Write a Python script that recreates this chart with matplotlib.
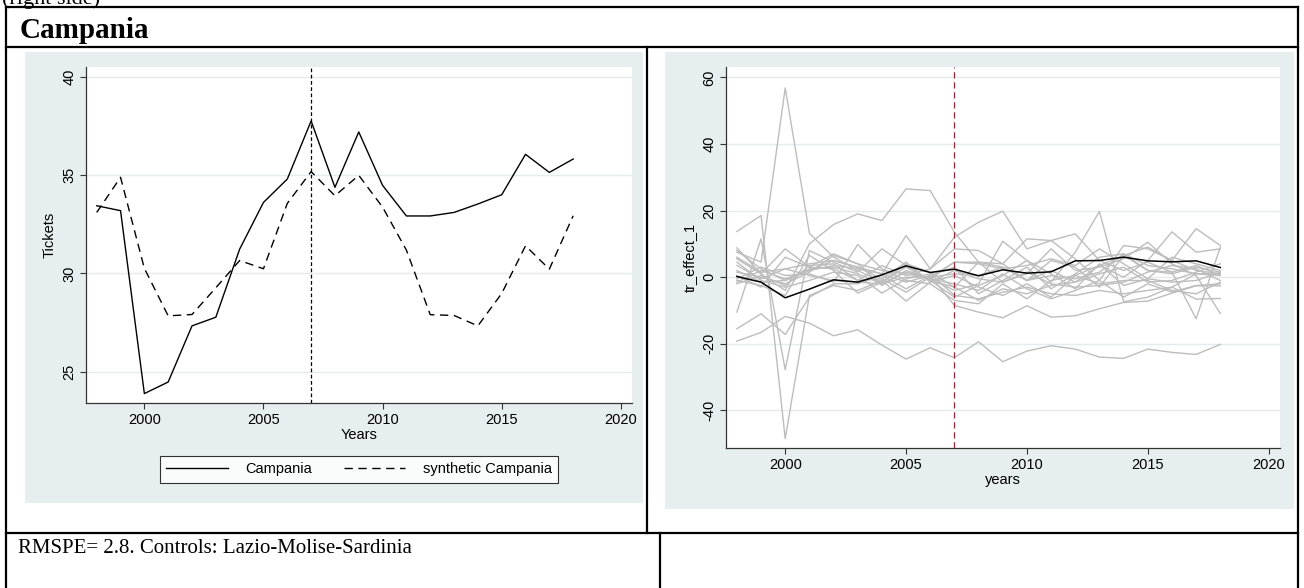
import matplotlib
matplotlib.use("Agg")
import matplotlib.pyplot as plt
from matplotlib.patches import Rectangle
from matplotlib.lines import Line2D

# ---------------------------------------------------------------
#  Data
# ---------------------------------------------------------------
years = list(range(1998, 2019))

campania = [33.45, 33.2, 23.88, 24.47, 27.33, 27.77, 31.24, 33.62, 34.81, 37.77,
            34.39, 37.21, 34.49, 32.93, 32.93, 33.11, 33.54, 34.01, 36.07, 35.15, 35.83]
synthetic = [33.11, 34.9, 30.26, 27.84, 27.91, 29.27, 30.66, 30.24, 33.57, 35.19,
             33.96, 35.0, 33.38, 31.19, 27.9, 27.86, 27.33, 28.98, 31.41, 30.22, 32.94]

# treatment effect for Campania
effect = [0.2, -1.5, -6.2, -3.6, -0.8, -1.5, 0.7, 3.4, 1.4, 2.4,
          0.4, 2.2, 1.2, 1.6, 4.9, 5.0, 6.0, 4.9, 4.6, 4.9, 2.9]

# placebo effects for the donor regions
placebos = [
    [-19.2, -16.6, -11.8, -13.8, -17.6, -15.8, -20.4, -24.6, -21.2, -24.2, -19.4,
     -25.4, -22.2, -20.6, -21.6, -24.0, -24.4, -21.6, -22.6, -23.2, -20.2],
    [7.5, 4.5, 56.8, 13.2, 6.0, 2.0, -1.5, 4.0, 1.5, -3.0, 4.5,
     3.0, -1.0, 2.0, -1.5, 3.5, 6.5, 2.0, 1.0, 3.0, 1.5],
    [13.7, 18.5, -48.5, -5.5, -2.5, -4.0, -1.0, -7.2, -1.5, 0.5, -3.0,
     -5.5, -2.0, -6.0, 0.5, -2.0, -1.0, -1.0, -4.0, -5.0, -1.5],
    [-10.5, 11.5, -27.8, 8.0, 4.5, 1.5, 8.5, 3.5, -1.0, -6.0, -2.5,
     0.5, 5.0, 1.0, -3.5, 4.0, -2.5, -0.5, 6.0, 4.0, 2.0],
    [-15.5, -11.0, -17.2, -6.0, -2.0, -2.0, 0.5, -3.5, 0.5, -8.5, -10.5,
     -12.2, -8.6, -12.0, -11.6, -9.5, -7.6, -7.2, -4.8, -2.6, -2.6],
    [5.5, 1.0, -4.0, 10.0, 15.8, 19.0, 17.0, 26.5, 26.0, 13.5, 4.5,
     4.0, -1.0, 5.0, 3.0, -3.0, 6.5, 9.0, 5.0, 2.0, 1.0],
    [3.5, -0.5, 2.5, 4.0, 5.0, 3.0, 1.0, 12.5, 2.5, 12.0, 16.5,
     19.8, 8.5, 11.0, 13.0, 5.0, 2.0, 4.5, 1.5, 3.5, 0.5],
    [8.8, 1.0, 8.5, 3.0, 7.0, 4.0, -2.5, 2.0, -0.5, -4.0, -2.0,
     10.8, 5.0, -1.5, 7.5, 19.7, -7.4, -6.0, -3.0, 1.0, 0.5],
    [0.5, -3.0, 6.0, 3.0, 2.5, -1.0, 3.5, 0.5, 2.5, 8.5, 8.0,
     4.0, 11.5, 11.0, 5.5, -1.0, 9.5, 8.5, 5.0, 14.6, 9.5],
    [-1.5, 2.0, -0.5, 2.0, 3.5, 2.5, 1.0, -1.5, 0.5, 3.0, -5.0,
     -1.0, 3.0, -3.5, 1.0, 6.0, 7.0, 2.0, 1.5, -12.5, 9.0],
    [1.5, 0.0, -2.0, 1.5, 6.5, 4.0, 2.0, 1.0, -0.5, 4.5, 4.5,
     -1.5, 1.0, 8.5, 2.0, 3.0, 5.5, 10.5, 4.0, 0.5, -10.9],
    [-0.5, 3.0, 0.5, 1.0, -1.5, 9.8, 2.5, -1.0, -2.0, -7.0, -8.0,
     -2.0, -6.5, -1.0, 0.5, 3.5, 0.0, 5.0, 13.6, 7.5, 8.5],
    [4.5, -1.0, -3.0, -1.0, 1.5, 0.5, -4.8, -0.5, 1.0, -5.5, -6.5,
     -4.5, -3.0, -5.0, -5.5, -4.0, -5.0, -4.0, -3.0, -6.6, -6.4],
    [2.0, -1.5, -1.0, 2.5, 3.0, 1.0, -2.0, 0.0, 0.0, 1.0, 0.5,
     3.0, -1.0, 0.5, -0.5, 1.5, 7.0, 3.5, 2.5, 1.0, 1.0],
    [-2.0, 0.5, -2.5, 3.5, 4.0, -1.0, -0.5, 4.5, -1.5, 2.0, -0.5,
     -1.5, 1.5, -2.0, -3.0, -2.5, -1.5, 1.5, 3.5, 2.5, -1.0],
    [8.0, 2.5, -1.0, 2.0, 5.0, 3.0, -0.5, -4.5, 0.0, 4.5, 4.0,
     2.5, 3.5, 5.5, 3.5, 8.5, 4.0, -0.5, -1.5, -1.0, 1.5],
    [6.0, 1.5, 2.5, 0.5, -1.0, -1.5, -2.0, 1.5, -0.5, -2.0, -4.0,
     1.0, -3.5, -6.5, -4.0, -1.0, -6.0, -2.0, -4.5, -2.5, -2.0],
    [-1.0, -2.5, -5.5, 6.5, 2.0, -4.8, -1.5, 3.0, -1.0, -3.0, -7.0,
     -3.5, -5.0, -2.5, -1.5, 1.0, 3.0, -1.5, -1.0, 1.5, 4.0],
]

treat_year = 2007
x_ticks = [2000, 2005, 2010, 2015, 2020]
left_yticks = [25, 30, 35, 40]
right_yticks = [-40, -20, 0, 20, 40, 60]

# ---------------------------------------------------------------
#  Style
# ---------------------------------------------------------------
W, H = 1304, 588
BG = "#e7eef0"
GRID = "#e4ecee"
SANS = ["Liberation Sans", "DejaVu Sans"]
SERIF = ["Liberation Serif", "DejaVu Serif"]
plt.rcParams["font.family"] = SANS


def px_axes(fig, x0, y0, x1, y1, **kw):
    """Axes placed by pixel box (top-left origin)."""
    return fig.add_axes([x0 / W, 1 - y1 / H, (x1 - x0) / W, (y1 - y0) / H], **kw)


def stata_axes(ax, ylim, yticks, ylabel, xlabel):
    ax.set_xlim(1997.55, 2020.47)
    ax.set_ylim(*ylim)
    ax.set_xticks(x_ticks)
    ax.set_yticks(yticks)
    ax.set_yticklabels([str(t) for t in yticks], rotation=90, va="center")
    ax.tick_params(axis="both", direction="out", length=4, width=0.8,
                   color="#333333", labelsize=10.5, pad=3)
    ax.grid(axis="y", color=GRID, lw=1.0)
    ax.set_axisbelow(True)
    for side in ("top", "right"):
        ax.spines[side].set_visible(False)
    for side in ("left", "bottom"):
        ax.spines[side].set_color("#333333")
        ax.spines[side].set_linewidth(0.9)
    ax.set_ylabel(ylabel, fontsize=10.5, labelpad=4)
    ax.set_xlabel(xlabel, fontsize=10.5, labelpad=1)


fig = plt.figure(figsize=(W / 100, H / 100), dpi=100)
fig.patch.set_facecolor("white")

# background layer: graph regions
bg = px_axes(fig, 0, 0, W, H, zorder=0)
bg.set_xlim(0, W)
bg.set_ylim(H, 0)
bg.axis("off")
bg.add_patch(Rectangle((25, 52), 618, 451, color=BG, lw=0))
bg.add_patch(Rectangle((665, 52), 629, 457, color=BG, lw=0))

# ---------------------------------------------------------------
#  Left: Campania vs synthetic Campania
# ---------------------------------------------------------------
ax1 = px_axes(fig, 86, 67, 632, 403, zorder=1)
ax1.plot(years, campania, color="black", lw=1.0, label="Campania")
ax1.plot(years, synthetic, color="black", lw=1.0, ls=(0, (6, 4)),
         label="synthetic Campania")
ax1.axvline(treat_year, color="black", lw=0.9, ls=(0, (3, 2)))
stata_axes(ax1, (23.4, 40.52), left_yticks, "Tickets", "Years")

leg = ax1.legend(loc="upper center", bbox_to_anchor=(0.5, -0.135), ncol=2,
                 frameon=True, fancybox=False, edgecolor="black",
                 fontsize=10.5, handlelength=4.2, columnspacing=2.2,
                 borderpad=0.45, handletextpad=1.2)
leg.get_frame().set_linewidth(0.8)

# ---------------------------------------------------------------
#  Right: placebo effects
# ---------------------------------------------------------------
ax2 = px_axes(fig, 726, 67, 1280, 448, zorder=1)
for series in placebos:
    ax2.plot(years, series, color="#bdbdbd", lw=1.0)
ax2.plot(years, effect, color="black", lw=1.1)
ax2.axvline(treat_year, color="#c8102e", lw=0.9, ls=(0, (5, 3)))
stata_axes(ax2, (-51.3, 63.1), right_yticks, "tr_effect_1", "years")

# ---------------------------------------------------------------
#  Table frame and captions
# ---------------------------------------------------------------
top = px_axes(fig, 0, 0, W, H, zorder=5)
top.set_xlim(0, W)
top.set_ylim(H, 0)
top.axis("off")
top.patch.set_alpha(0)

rules = [
    ((6, 1298), (7, 7)),
    ((6, 1298), (47, 47)),
    ((6, 1298), (533, 533)),
    ((6, 6), (7, 590)),
    ((1298, 1298), (7, 590)),
    ((647, 647), (47, 533)),
    ((660, 660), (533, 590)),
]
for xs, ys in rules:
    top.add_line(Line2D(xs, ys, color="black", lw=1.6, solid_capstyle="projecting"))

top.text(2, 4, "(right side)", family=SERIF, fontsize=16, va="baseline", ha="left")
top.text(20, 38, "Campania", family=SERIF, fontsize=21, fontweight="bold",
         va="baseline", ha="left")
top.text(18, 553, "RMSPE= 2.8. Controls: Lazio-Molise-Sardinia", family=SERIF,
         fontsize=15, va="baseline", ha="left")

fig.savefig("out.png", dpi=100)
